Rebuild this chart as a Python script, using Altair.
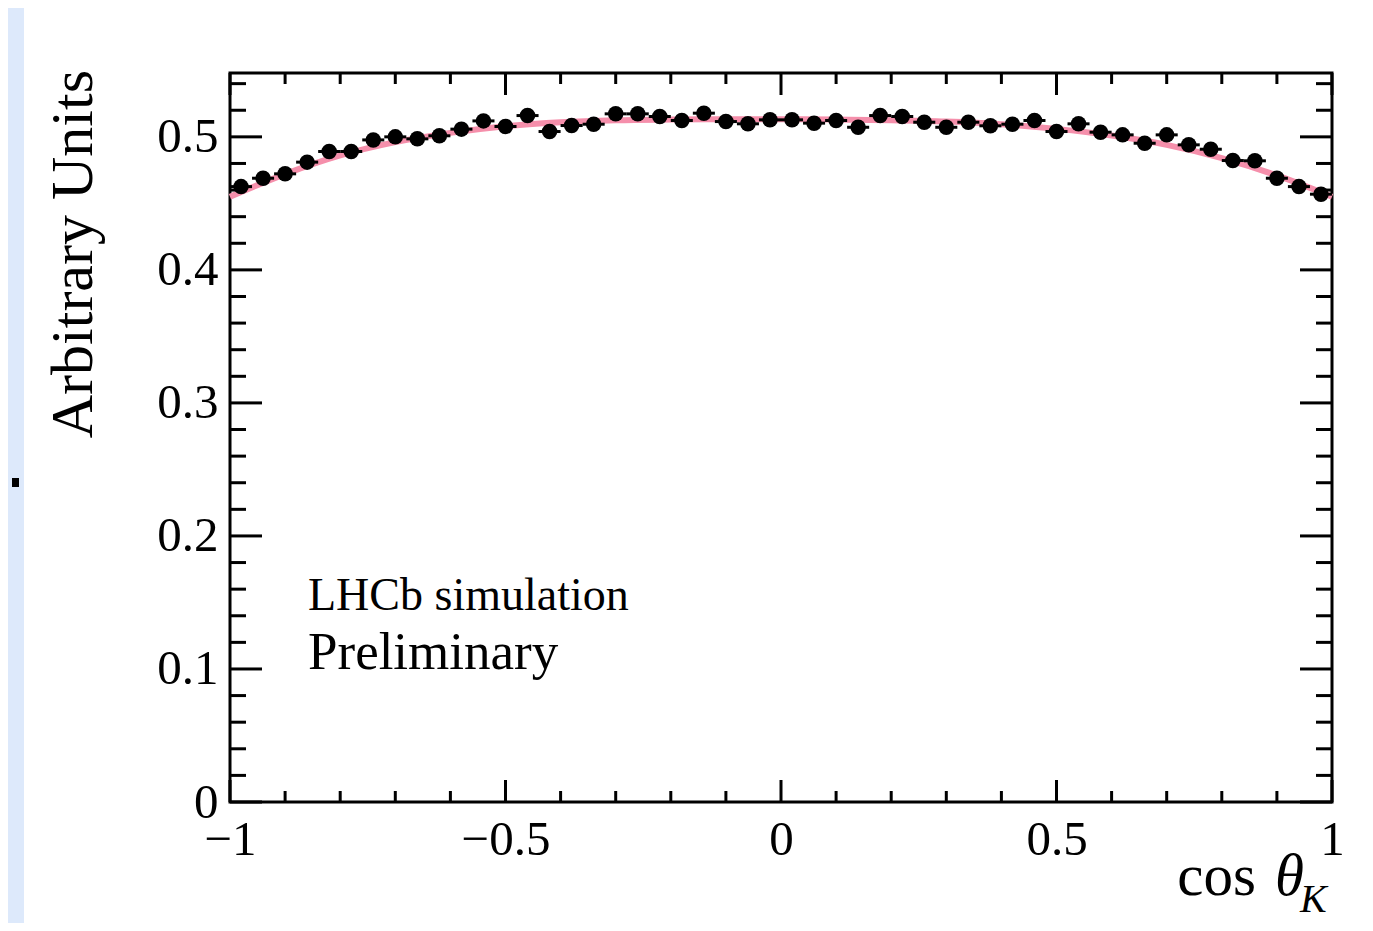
import altair as alt
import pandas as pd

# ---- data ----
bin_centers = [-0.98, -0.94, -0.90, -0.86, -0.82, -0.78, -0.74, -0.70, -0.66, -0.62,
               -0.58, -0.54, -0.50, -0.46, -0.42, -0.38, -0.34, -0.30, -0.26, -0.22,
               -0.18, -0.14, -0.10, -0.06, -0.02, 0.02, 0.06, 0.10, 0.14, 0.18,
               0.22, 0.26, 0.30, 0.34, 0.38, 0.42, 0.46, 0.50, 0.54, 0.58,
               0.62, 0.66, 0.70, 0.74, 0.78, 0.82, 0.86, 0.90, 0.94, 0.98]
values = [0.4626, 0.4689, 0.4722, 0.4810, 0.4890, 0.4890, 0.4977, 0.5000, 0.4985, 0.5008,
          0.5058, 0.5120, 0.5078, 0.5160, 0.5040, 0.5085, 0.5095, 0.5173, 0.5173, 0.5153,
          0.5123, 0.5178, 0.5115, 0.5098, 0.5128, 0.5128, 0.5103, 0.5123, 0.5072, 0.5160,
          0.5153, 0.5110, 0.5072, 0.5110, 0.5083, 0.5095, 0.5123, 0.5040, 0.5098, 0.5035,
          0.5015, 0.4952, 0.5015, 0.4940, 0.4907, 0.4822, 0.4820, 0.4689, 0.4626, 0.4569]
bin_half_width = 0.02

curve_x = [-1.0, -0.9, -0.8, -0.7, -0.6, -0.5, -0.4, -0.3, -0.2, -0.1, 0.0,
           0.1, 0.2, 0.3, 0.4, 0.5, 0.6, 0.7, 0.8, 0.9, 1.0]
curve_y = [0.455, 0.472, 0.486, 0.496, 0.503, 0.508, 0.511, 0.5125, 0.513, 0.5132, 0.5132,
           0.513, 0.5125, 0.5115, 0.5095, 0.506, 0.501, 0.494, 0.484, 0.471, 0.455]

x_major = [-1.0, -0.5, 0.0, 0.5, 1.0]
x_minor = [-0.9, -0.8, -0.7, -0.6, -0.4, -0.3, -0.2, -0.1,
           0.1, 0.2, 0.3, 0.4, 0.6, 0.7, 0.8, 0.9]
y_major = [0.0, 0.1, 0.2, 0.3, 0.4, 0.5]
y_minor = [0.02, 0.04, 0.06, 0.08, 0.12, 0.14, 0.16, 0.18, 0.22, 0.24, 0.26, 0.28,
           0.32, 0.34, 0.36, 0.38, 0.42, 0.44, 0.46, 0.48, 0.52, 0.54]

# ---- layout ----
W, H = 1102, 729
FONT = "Liberation Serif"
xs = alt.Scale(domain=[-1, 1], nice=False, zero=False)
ys = alt.Scale(domain=[0, 0.548], nice=False, zero=False)
XAXIS = alt.Axis(values=x_major, format="~g", labelFont=FONT, labelFontSize=49,
                 labelColor="black", labelPadding=13, ticks=False, domain=False,
                 grid=False, labelFlush=False, labelOverlap=False, title=None)
YAXIS = alt.Axis(values=y_major, format="~g", labelFont=FONT, labelFontSize=49,
                 labelColor="black", labelPadding=12, ticks=False, domain=False,
                 grid=False, labelOverlap=False, title=None)

def X(field):
    return alt.X(field, scale=xs, axis=XAXIS)

def Y(field):
    return alt.Y(field, scale=ys, axis=YAXIS)

pts = pd.DataFrame({"x": bin_centers, "y": values})
pts["lo"] = [c - bin_half_width for c in bin_centers]
pts["hi"] = [c + bin_half_width for c in bin_centers]
curve = pd.DataFrame({"x": curve_x, "y": curve_y})
one = pd.DataFrame({"a": [0]})

# background strip on the left
strip = alt.Chart(one).mark_rect(color="#dde9fb").encode(
    x=alt.value(-222), x2=alt.value(-206), y=alt.value(-65), y2=alt.value(850))
blob = alt.Chart(one).mark_rect(color="black").encode(
    x=alt.value(-218), x2=alt.value(-211), y=alt.value(405), y2=alt.value(414))

fit = alt.Chart(curve).mark_line(color="#f58fab", strokeWidth=6, interpolate="monotone").encode(
    x=X("x:Q"), y=Y("y:Q"))

errs = alt.Chart(pts).mark_rule(color="black", strokeWidth=3).encode(
    x=X("lo:Q"), x2="hi:Q", y=Y("y:Q"))

dots = alt.Chart(pts).mark_circle(color="black", opacity=1, size=240).encode(
    x=X("x:Q"), y=Y("y:Q"))

def xticks(vals, length):
    d = pd.DataFrame({"v": vals})
    b = alt.Chart(d).mark_rule(color="black", strokeWidth=3).encode(
        x=X("v:Q"), y=alt.value(H), y2=alt.value(H - length))
    t = alt.Chart(d).mark_rule(color="black", strokeWidth=3).encode(
        x=X("v:Q"), y=alt.value(0), y2=alt.value(length))
    return [b, t]

def yticks(vals, length):
    d = pd.DataFrame({"v": vals})
    l = alt.Chart(d).mark_rule(color="black", strokeWidth=3).encode(
        y=Y("v:Q"), x=alt.value(0), x2=alt.value(length))
    r = alt.Chart(d).mark_rule(color="black", strokeWidth=3).encode(
        y=Y("v:Q"), x=alt.value(W), x2=alt.value(W - length))
    return [l, r]

ticks = xticks(x_major, 22) + xticks(x_minor, 11) + yticks(y_major, 32) + yticks(y_minor, 16)

def label(txt, x, y, size, align="left", style="normal", angle=0, baseline="alphabetic"):
    return alt.Chart(one).mark_text(text=txt, font=FONT, fontSize=size, align=align,
                                    baseline=baseline, fontStyle=style, angle=angle,
                                    color="black").encode(x=alt.value(x), y=alt.value(y))

texts = [
    label("Arbitrary Units", -138, -3, 60, align="right", angle=270),
    label("cos", 1026, 822, 59, align="right"),
    label("θ", 1045, 822, 59, style="italic"),
    label("K", 1070, 839, 40, style="italic"),
    label("LHCb simulation", 78, 537, 46),
    label("Preliminary", 78, 596, 53),
]

chart = alt.layer(strip, blob, fit, errs, dots, *ticks, *texts).properties(
    width=W, height=H,
    autosize=alt.AutoSizeParams(type="none"),
    padding={"left": 222, "top": 65, "right": 33, "bottom": 121},
    background="white",
).configure_view(stroke="black", strokeWidth=3)

chart.save("out.html", embed_options={"renderer": "svg", "actions": False})
